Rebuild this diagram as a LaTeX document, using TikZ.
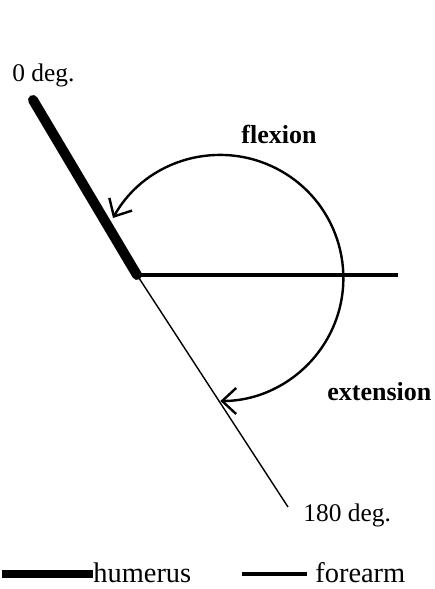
\documentclass[tikz,border=0pt]{standalone}
\usepackage{fontspec}
\setmainfont{Liberation Serif}
\usetikzlibrary{arrows.meta}
\tikzset{
  bosso/.style={line width=5pt, line cap=round},
  bante/.style={line width=2.4pt},
  blinha/.style={line width=0.7pt},
  bseta/.style={line width=1.2pt, {Straight Barb[length=7pt,width=13pt]}-{Straight Barb[length=7pt,width=13pt]}},
  brotulo/.style={font=\fontsize{12.7}{15}\selectfont, inner sep=0pt, anchor=base west},
  bnegrito/.style={brotulo, font=\fontsize{13}{15}\selectfont\bfseries},
  blegenda/.style={brotulo, font=\fontsize{14.2}{16}\selectfont},
}

\begin{document}
\begin{tikzpicture}[x=0.5pt, y=-0.5pt]
    \useasboundingbox (0,0) rectangle (434,589);
    \coordinate (ombro) at (33,100);
    \coordinate (cotovelo) at (137,275);
    \coordinate (mao) at (398,275);
    \coordinate (fim) at (288,507);
    \coordinate (flexao) at (113,218);
    \draw[blinha] (cotovelo) -- (fim);
    \draw[bante] (cotovelo) -- (mao);
    \draw[bosso] (ombro) -- (cotovelo);
    \draw[bseta] (flexao) arc[start angle=-150.8, end angle=90, radius=123];
    \node[brotulo] (zero) at (12,81) {0 deg.};
    \node[bnegrito] (flex) at (241,143) {flexion};
    \node[bnegrito] (ext) at (327,400) {extension};
    \node[brotulo] (cento) at (303,521) {180 deg.};
    % legenda
    \node[blegenda] (humero) at (93,582) {humerus};
    \node[blegenda] (antebraco) at (315,582) {forearm};
    \coordinate (lh) at (2,574);
    \coordinate (la) at (242,574);
    \draw[line width=4pt] (lh) -- (lh -| humero.west);
    \draw[bante] (la) -- ([xshift=-4pt]la -| antebraco.west);
\end{tikzpicture}
\end{document}
